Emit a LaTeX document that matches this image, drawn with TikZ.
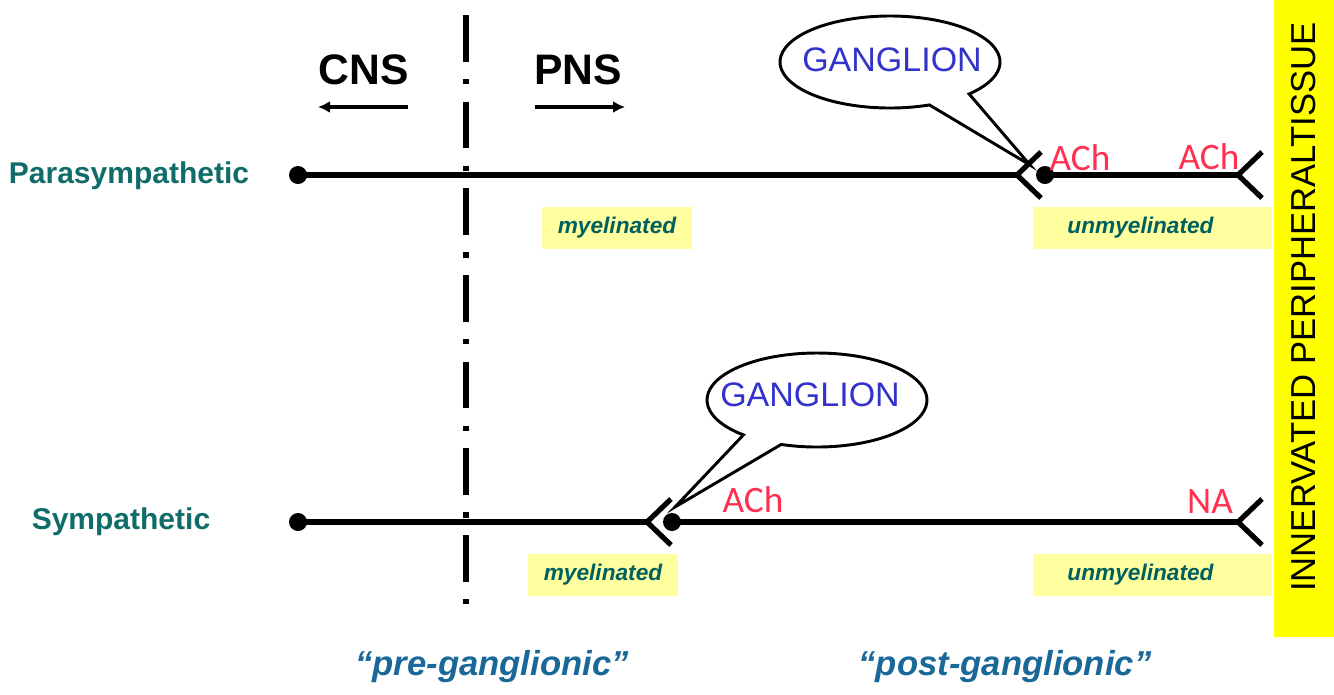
\documentclass[tikz,border=0pt]{standalone}
\usepackage{fontspec}
\setmainfont{Liberation Sans}
\newfontfamily\handfont{Carlito}
\usetikzlibrary{arrows.meta,calc}
\definecolor{sidetxt}{RGB}{16,108,104}
\definecolor{boxtxt}{RGB}{0,96,96}
\definecolor{phasetxt}{RGB}{26,104,152}
\definecolor{gangblue}{RGB}{51,51,204}
\definecolor{transred}{RGB}{255,48,80}
\definecolor{paleyellow}{RGB}{255,255,160}
\definecolor{baryellow}{RGB}{255,255,0}
\tikzset{
  axon/.style={line width=3.9pt},
  soma/.style={circle,fill=black,inner sep=0pt,minimum size=13.5pt},
  ybox/.style={fill=paleyellow,minimum height=32pt,font=\fontsize{17}{20}\selectfont\bfseries\itshape,text=boxtxt},
  sidelabel/.style={font=\fontsize{22.5}{26}\selectfont\bfseries,text=sidetxt},
  phase/.style={font=\fontsize{26}{30}\selectfont\bfseries\itshape,text=phasetxt},
  nt/.style={font=\handfont\fontsize{28}{30}\selectfont,text=transred},
  callout/.style={draw,line width=2.2pt,fill=white},
  ganglabel/.style={font=\fontsize{25.5}{28}\selectfont,text=gangblue},
  side/.style={line width=3pt,-{Latex[length=9pt,width=9pt]}},
}
% synapse ending, opening to the right
\newcommand{\synend}[1]{\draw[axon] ([shift={(24,-23)}]#1) -- (#1) -- ([shift={(24,23)}]#1);}

\begin{document}
\begin{tikzpicture}[x=0.75pt,y=-0.75pt]
\useasboundingbox (0,0) rectangle (1334,694);
% target tissue
\fill[baryellow] (1274,0) rectangle (1334,637);
\node[rotate=90,font=\fontsize{26}{28}\selectfont] (tissue) at (1304,307) {INNERVATED PERIPHERALTISSUE};

% fibre type boxes
\node[ybox,minimum width=112.5pt] (my1) at (617,228) {myelinated};
\node[ybox,minimum width=179pt] (um1) at (1152.5,228) {unmyelinated\hspace*{18pt}};
\node[ybox,minimum width=112.5pt] (my2) at (603,575) {myelinated};
\node[ybox,minimum width=179pt] (um2) at (1152.5,575) {unmyelinated\hspace*{18pt}};

% CNS / PNS border
\draw[line width=4pt,dash pattern=on 35pt off 13pt on 4pt off 13pt] (466,15) -- (466,605);
\node[font=\fontsize{32}{36}\selectfont\bfseries] (cns) at (364,70) {CNS};
\node[font=\fontsize{32}{36}\selectfont\bfseries] (pns) at (578,70) {PNS};
\coordinate (cnsa) at (408,107);
\coordinate (cnsb) at (318,107);
\coordinate (pnsa) at (535,107);
\coordinate (pnsb) at (625,107);
\draw[side] (cnsa) -- (cnsb);
\draw[side] (pnsa) -- (pnsb);

% parasympathetic pathway
\node[sidelabel] (para) at (129,176) {Parasympathetic};
\node[soma] (p0) at (298,175) {};
\coordinate (ps1) at (1017,175);
\node[soma] (p1) at (1045,175) {};
\coordinate (pe) at (1238,175);
\draw[axon] (p0.center) -- (ps1);
\draw[axon] (p1.center) -- (pe);
\synend{ps1}
\synend{pe}

% sympathetic pathway
\node[sidelabel] (symp) at (121,522) {Sympathetic};
\node[soma] (s0) at (298,522) {};
\coordinate (ss1) at (647,522);
\node[soma] (s1) at (672,522) {};
\coordinate (se) at (1238,522);
\draw[axon] (s0.center) -- (ss1);
\draw[axon] (s1.center) -- (se);
\synend{ss1}
\synend{se}

% ganglion callouts
\coordinate (gtopc) at (890,62);
\coordinate (gtoptip) at (1030,165);
\draw[callout] (gtoptip) -- ($(gtopc)+(69:110 and 46)$) arc[start angle=69,end angle=404,x radius=110,y radius=46] -- cycle;
\node[ganglabel] (gtop) at (892,60) {GANGLION};
\coordinate (gbotc) at (817,400);
\coordinate (gbottip) at (675,507);
\draw[callout] (gbottip) -- ($(gbotc)+(132:110 and 47)$) arc[start angle=132,end angle=469,x radius=110,y radius=47] -- cycle;
\node[ganglabel] (gbot) at (810,395) {GANGLION};

% transmitters
\node[nt] (ach1) at (1080,158) {ACh};
\node[nt] (ach2) at (1209,157) {ACh};
\node[nt] (ach3) at (753,500) {ACh};
\node[nt] (na) at (1210,502) {NA};

% neuron segments
\node[phase] (pre) at (492,667) {“pre-ganglionic”};
\node[phase] (post) at (1005,667) {“post-ganglionic”};
\end{tikzpicture}
\end{document}
